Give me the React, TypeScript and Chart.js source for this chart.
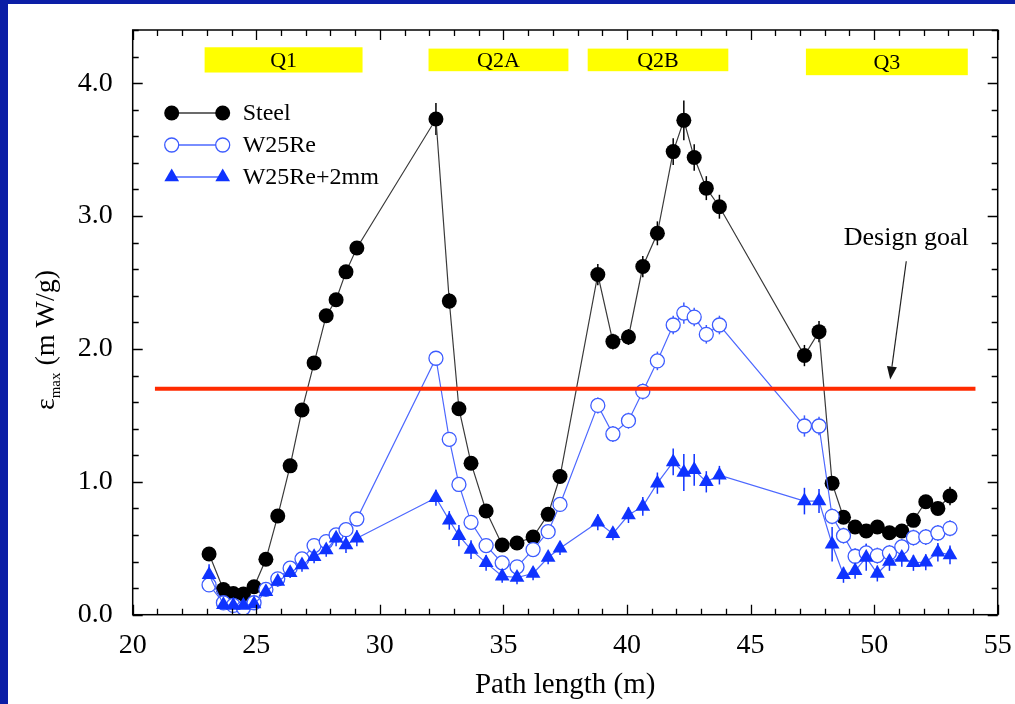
import { useEffect, useRef } from "react";
import { Chart, registerables } from "chart.js";

Chart.register(...registerables);

// Path length along the beam line (m), shared by all three measured series
const pathLength = [
  23.09, 23.67, 24.07, 24.48, 24.91, 25.39, 25.87, 26.37, 26.85, 27.34, 27.83, 28.23, 28.63, 29.07,
  32.27, 32.81, 33.2, 33.69, 34.3, 34.95, 35.55, 36.2, 36.81, 37.29,
  38.82, 39.43, 40.06, 40.64, 41.23, 41.87, 42.3, 42.72, 43.21, 43.74,
  47.18, 47.77, 48.3, 48.76, 49.23, 49.68, 50.13, 50.62, 51.12, 51.59, 52.09, 52.58, 53.07,
];

// Peak power density, mW/g
const steel = [
  0.457, 0.19, 0.16, 0.156, 0.21, 0.417, 0.743, 1.12, 1.54, 1.895, 2.25, 2.37, 2.58, 2.76,
  3.73, 2.36, 1.55, 1.14, 0.78, 0.525, 0.54, 0.585, 0.755, 1.04,
  2.56, 2.055, 2.09, 2.62, 2.87, 3.485, 3.72, 3.44, 3.21, 3.07,
  1.95, 2.13, 0.99, 0.733, 0.66, 0.63, 0.66, 0.617, 0.63, 0.71, 0.85, 0.8, 0.893,
];
const w25re = [
  0.224, 0.09, 0.07, 0.05, 0.09, 0.19, 0.27, 0.35, 0.42, 0.52, 0.55, 0.6, 0.64, 0.72,
  1.93, 1.32, 0.98, 0.695, 0.52, 0.39, 0.36, 0.49, 0.625, 0.83,
  1.575, 1.36, 1.46, 1.68, 1.91, 2.18, 2.27, 2.24, 2.11, 2.18,
  1.42, 1.42, 0.74, 0.595, 0.44, 0.465, 0.445, 0.465, 0.51, 0.58, 0.585, 0.615, 0.65,
];
const w25re2mm = [
  0.3, 0.075, 0.07, 0.07, 0.08, 0.173, 0.25, 0.316, 0.374, 0.437, 0.487, 0.575, 0.525, 0.575,
  0.88, 0.71, 0.595, 0.49, 0.39, 0.29, 0.28, 0.31, 0.43, 0.5,
  0.695, 0.61, 0.75, 0.815, 0.99, 1.15, 1.07, 1.09, 1.0, 1.05,
  0.855, 0.855, 0.53, 0.3, 0.33, 0.43, 0.31, 0.4, 0.43, 0.39, 0.395, 0.47, 0.45,
];

// Statistical uncertainties (mW/g)
const steelErr = [
  0.04, 0.03, 0.03, 0.03, 0.03, 0.03, 0.04, 0.04, 0.05, 0.05, 0.05, 0.05, 0.05, 0.05,
  0.12, 0.06, 0.05, 0.04, 0.04, 0.03, 0.03, 0.03, 0.04, 0.05,
  0.08, 0.06, 0.06, 0.08, 0.09, 0.1, 0.15, 0.1, 0.09, 0.09,
  0.08, 0.08, 0.05, 0.04, 0.04, 0.04, 0.04, 0.04, 0.04, 0.05, 0.05, 0.05, 0.07,
];
const w25reErr = [
  0.03, 0.03, 0.03, 0.03, 0.03, 0.03, 0.03, 0.03, 0.03, 0.03, 0.03, 0.03, 0.03, 0.04,
  0.05, 0.05, 0.04, 0.04, 0.04, 0.04, 0.04, 0.04, 0.04, 0.04,
  0.06, 0.06, 0.06, 0.06, 0.07, 0.07, 0.08, 0.07, 0.07, 0.07,
  0.08, 0.07, 0.06, 0.06, 0.06, 0.07, 0.06, 0.06, 0.06, 0.06, 0.06, 0.06, 0.06,
];
const w25re2mmErr = [
  0.08, 0.04, 0.04, 0.04, 0.04, 0.04, 0.04, 0.04, 0.05, 0.05, 0.05, 0.06, 0.06, 0.06,
  0.06, 0.07, 0.08, 0.07, 0.06, 0.05, 0.05, 0.05, 0.05, 0.05,
  0.06, 0.05, 0.06, 0.07, 0.08, 0.1, 0.14, 0.12, 0.08, 0.07,
  0.1, 0.09, 0.13, 0.06, 0.06, 0.1, 0.06, 0.07, 0.07, 0.06, 0.06, 0.07, 0.07,
];

const seriesNames = ["Steel", "W25Re", "W25Re+2mm"];

// Magnet regions marked along the top
const regionLabels = ["Q1", "Q2A", "Q2B", "Q3"];
const regionStart = [22.91, 31.97, 38.41, 47.24];
const regionEnd = [29.3, 37.63, 44.1, 53.79];
const regionTop = [4.27, 4.26, 4.26, 4.26];
const regionBottom = [4.08, 4.09, 4.09, 4.06];

// Design goal line and its callout
const goalLevel = 1.7;
const goalFrom = 20.9;
const goalTo = 54.1;
const goalText = "Design goal";
const goalTextAt = [51.3, 2.83];
const arrowTail = [51.3, 2.66];
const arrowTip = [50.65, 1.77];

const xTickValues = [20, 25, 30, 35, 40, 45, 50, 55];
const yTickValues = [0, 1, 2, 3, 4];
const xTitle = "Path length (m)";
const yTitleSymbol = "ε";
const yTitleSub = "max";
const yTitleUnit = " (m W/g)";

const SERIF = '"Liberation Serif", "Times New Roman", serif';
const STEEL_COLOR = "#000000";
const STEEL_LINE = "#3a3a3a";
const W25_COLOR = "#3d5cff";
const W25_LINE = "#4d68ff";
const TRI_COLOR = "#0f33ff";
const GOAL_COLOR = "#ff2a00";

const pts = (ys: number[]) => pathLength.map((x, i) => ({ x, y: ys[i] }));

const seriesValues = [steel, w25re, w25re2mm];
const seriesErrors = [steelErr, w25reErr, w25re2mmErr];
const errColors = [STEEL_COLOR, W25_COLOR, TRI_COLOR];

function drawMarker(ctx: CanvasRenderingContext2D, kind: number, x: number, y: number) {
  ctx.save();
  if (kind === 0) {
    ctx.beginPath();
    ctx.arc(x, y, 7.5, 0, Math.PI * 2);
    ctx.fillStyle = STEEL_COLOR;
    ctx.fill();
  } else if (kind === 1) {
    ctx.beginPath();
    ctx.arc(x, y, 7, 0, Math.PI * 2);
    ctx.fillStyle = "#ffffff";
    ctx.fill();
    ctx.lineWidth = 1.3;
    ctx.strokeStyle = W25_COLOR;
    ctx.stroke();
  } else {
    const r = 8.5;
    ctx.beginPath();
    for (let k = 0; k < 3; k++) {
      const a = (k * 2 * Math.PI) / 3;
      const px = x + Math.sin(a) * r;
      const py = y - Math.cos(a) * r;
      if (k === 0) ctx.moveTo(px, py);
      else ctx.lineTo(px, py);
    }
    ctx.closePath();
    ctx.fillStyle = TRI_COLOR;
    ctx.fill();
  }
  ctx.restore();
}

// keep the plot rectangle fixed: no extra room reserved for edge labels
const noEdgePadding = (s: any) => {
  s.paddingTop = 0;
  s.paddingBottom = 0;
  s.paddingLeft = 0;
  s.paddingRight = 0;
};

const decorPlugin = {
  id: "decor",
  beforeDatasetsDraw(chart: any) {
    const { ctx } = chart;
    const x = chart.scales.x;
    const y = chart.scales.y;
    ctx.save();
    // yellow region boxes
    regionLabels.forEach((label, i) => {
      const l = x.getPixelForValue(regionStart[i]);
      const r = x.getPixelForValue(regionEnd[i]);
      const t = y.getPixelForValue(regionTop[i]);
      const b = y.getPixelForValue(regionBottom[i]);
      ctx.fillStyle = "#ffff00";
      ctx.fillRect(l, t, r - l, b - t);
      ctx.fillStyle = "#000";
      ctx.font = `22px ${SERIF}`;
      ctx.textAlign = "center";
      ctx.textBaseline = "middle";
      ctx.fillText(label, (l + r) / 2, (t + b) / 2 + 1);
    });
    // vertical error bars
    seriesValues.forEach((vals, s) => {
      const errs = seriesErrors[s];
      ctx.strokeStyle = errColors[s];
      ctx.lineWidth = 1.5;
      vals.forEach((v, j) => {
        const px = x.getPixelForValue(pathLength[j]);
        ctx.beginPath();
        ctx.moveTo(px, y.getPixelForValue(v - errs[j]));
        ctx.lineTo(px, y.getPixelForValue(v + errs[j]));
        ctx.stroke();
      });
    });
    ctx.restore();
  },
  afterDraw(chart: any) {
    const { ctx, chartArea: ca } = chart;
    const x = chart.scales.x;
    const y = chart.scales.y;
    ctx.save();

    // frame with inward ticks on all four sides
    ctx.strokeStyle = "#000";
    ctx.lineWidth = 1.5;
    ctx.strokeRect(ca.left, ca.top, ca.right - ca.left, ca.bottom - ca.top);
    ctx.lineWidth = 1.3;
    for (let v = 20; v <= 55 + 1e-6; v += 1) {
      const px = Math.round(x.getPixelForValue(v)) + 0.5;
      const len = Math.abs(v % 5) < 1e-6 ? 10 : 6;
      ctx.beginPath();
      ctx.moveTo(px, ca.bottom);
      ctx.lineTo(px, ca.bottom - len);
      ctx.moveTo(px, ca.top);
      ctx.lineTo(px, ca.top + len);
      ctx.stroke();
    }
    for (let k = 0; k <= 22; k++) {
      const v = k * 0.2;
      const py = Math.round(y.getPixelForValue(v)) + 0.5;
      const len = k % 5 === 0 ? 10 : 6;
      ctx.beginPath();
      ctx.moveTo(ca.left, py);
      ctx.lineTo(ca.left + len, py);
      ctx.moveTo(ca.right, py);
      ctx.lineTo(ca.right - len, py);
      ctx.stroke();
    }

    // legend
    const rows = [ca.top + 83, ca.top + 115, ca.top + 147];
    const lineColors = [STEEL_LINE, W25_LINE, W25_LINE];
    seriesNames.forEach((name, i) => {
      const yy = rows[i];
      const x1 = ca.left + 39;
      const x2 = ca.left + 90;
      ctx.strokeStyle = lineColors[i];
      ctx.lineWidth = 1.5;
      ctx.beginPath();
      ctx.moveTo(x1, yy);
      ctx.lineTo(x2, yy);
      ctx.stroke();
      drawMarker(ctx, i, x1, yy);
      drawMarker(ctx, i, x2, yy);
      ctx.fillStyle = "#000";
      ctx.font = `24px ${SERIF}`;
      ctx.textAlign = "left";
      ctx.textBaseline = "middle";
      ctx.fillText(name, ca.left + 110, yy + 1);
    });

    // design goal callout
    const tx = x.getPixelForValue(arrowTail[0]);
    const ty = y.getPixelForValue(arrowTail[1]);
    const hx = x.getPixelForValue(arrowTip[0]);
    const hy = y.getPixelForValue(arrowTip[1]);
    const ang = Math.atan2(hy - ty, hx - tx);
    const headLen = 13;
    const headHalf = 5;
    const bx = hx - Math.cos(ang) * headLen;
    const by = hy - Math.sin(ang) * headLen;
    ctx.strokeStyle = "#222";
    ctx.lineWidth = 1.2;
    ctx.beginPath();
    ctx.moveTo(tx, ty);
    ctx.lineTo(bx, by);
    ctx.stroke();
    ctx.fillStyle = "#111";
    ctx.beginPath();
    ctx.moveTo(hx, hy);
    ctx.lineTo(bx + Math.sin(ang) * headHalf, by - Math.cos(ang) * headHalf);
    ctx.lineTo(bx - Math.sin(ang) * headHalf, by + Math.cos(ang) * headHalf);
    ctx.closePath();
    ctx.fill();
    ctx.fillStyle = "#000";
    ctx.font = `26px ${SERIF}`;
    ctx.textAlign = "center";
    ctx.textBaseline = "middle";
    ctx.fillText(goalText, x.getPixelForValue(goalTextAt[0]), y.getPixelForValue(goalTextAt[1]));

    // y-axis title with subscript
    const cy = 336;
    const cx = 39;
    ctx.translate(cx, cy);
    ctx.rotate(-Math.PI / 2);
    ctx.textBaseline = "middle";
    ctx.textAlign = "left";
    const big = `28px ${SERIF}`;
    const small = `15px ${SERIF}`;
    ctx.font = big;
    const w1 = ctx.measureText(yTitleSymbol).width;
    const w3 = ctx.measureText(yTitleUnit).width;
    ctx.font = small;
    const w2 = ctx.measureText(yTitleSub).width;
    const start = -(w1 + w2 + w3) / 2;
    ctx.font = big;
    ctx.fillText(yTitleSymbol, start, 0);
    ctx.font = small;
    ctx.fillText(yTitleSub, start + w1, 9);
    ctx.font = big;
    ctx.fillText(yTitleUnit, start + w1 + w2, 0);

    ctx.restore();
  },
};

export default function App() {
  const canvasRef = useRef<HTMLCanvasElement | null>(null);

  useEffect(() => {
    const canvas = canvasRef.current;
    if (!canvas) return;
    const chart = new Chart(canvas, {
      type: "scatter",
      data: {
        datasets: [
          {
            label: goalText,
            data: [
              { x: goalFrom, y: goalLevel },
              { x: goalTo, y: goalLevel },
            ],
            showLine: true,
            borderColor: GOAL_COLOR,
            borderWidth: 4,
            pointRadius: 0,
            order: 0,
          },
          {
            label: seriesNames[2],
            data: pts(w25re2mm),
            showLine: true,
            borderColor: W25_LINE,
            borderWidth: 1.2,
            pointStyle: "triangle",
            pointRadius: 8.5,
            pointBorderWidth: 0,
            pointBackgroundColor: TRI_COLOR,
            pointBorderColor: TRI_COLOR,
            order: 1,
          },
          {
            label: seriesNames[1],
            data: pts(w25re),
            showLine: true,
            borderColor: W25_LINE,
            borderWidth: 1.2,
            pointStyle: "circle",
            pointRadius: 7,
            pointBorderWidth: 1.3,
            pointBackgroundColor: "#ffffff",
            pointBorderColor: W25_COLOR,
            order: 2,
          },
          {
            label: seriesNames[0],
            data: pts(steel),
            showLine: true,
            borderColor: STEEL_LINE,
            borderWidth: 1.2,
            pointStyle: "circle",
            pointRadius: 7.5,
            pointBorderWidth: 0,
            pointBackgroundColor: STEEL_COLOR,
            pointBorderColor: STEEL_COLOR,
            order: 3,
          },
        ],
      },
      options: {
        animation: false,
        responsive: false,
        events: [],
        layout: { padding: { left: 0, top: 26, right: 17.3, bottom: 0 } },
        plugins: { legend: { display: false }, tooltip: { enabled: false } },
        scales: {
          x: {
            type: "linear",
            min: 20,
            max: 55,
            afterFit: (s: any) => {
              s.height = 89.3;
              noEdgePadding(s);
            },
            afterBuildTicks: (s: any) => {
              s.ticks = xTickValues.map((v) => ({ value: v }));
            },
            grid: { display: false, drawTicks: false },
            border: { display: false },
            ticks: {
              padding: 14,
              color: "#000",
              autoSkip: false,
              maxRotation: 0,
              font: { family: SERIF, size: 28 },
              callback: (v: any) => String(v),
            },
            title: {
              display: true,
              text: xTitle,
              color: "#000",
              font: { family: SERIF, size: 29 },
              padding: { top: 0, bottom: 1 },
            },
          },
          y: {
            type: "linear",
            min: 0,
            max: 4.4,
            afterFit: (s: any) => {
              s.width = 124.7;
              noEdgePadding(s);
            },
            afterBuildTicks: (s: any) => {
              s.ticks = yTickValues.map((v) => ({ value: v }));
            },
            grid: { display: false, drawTicks: false },
            border: { display: false },
            ticks: {
              padding: 20,
              color: "#000",
              font: { family: SERIF, size: 28 },
              callback: (v: any) => Number(v).toFixed(1),
            },
          },
        },
      },
      plugins: [decorPlugin],
    });
    return () => chart.destroy();
  }, []);

  return (
    <div
      style={{
        position: "fixed",
        left: 0,
        top: 0,
        width: 1015,
        height: 704,
        background: "#0b1ea6",
        overflow: "hidden",
      }}
    >
      <div
        style={{
          position: "absolute",
          left: 8,
          top: 4,
          width: 1007,
          height: 700,
          background: "#ffffff",
        }}
      >
        <canvas ref={canvasRef} width={1007} height={700} style={{ display: "block", width: 1007, height: 700 }} />
      </div>
    </div>
  );
}
